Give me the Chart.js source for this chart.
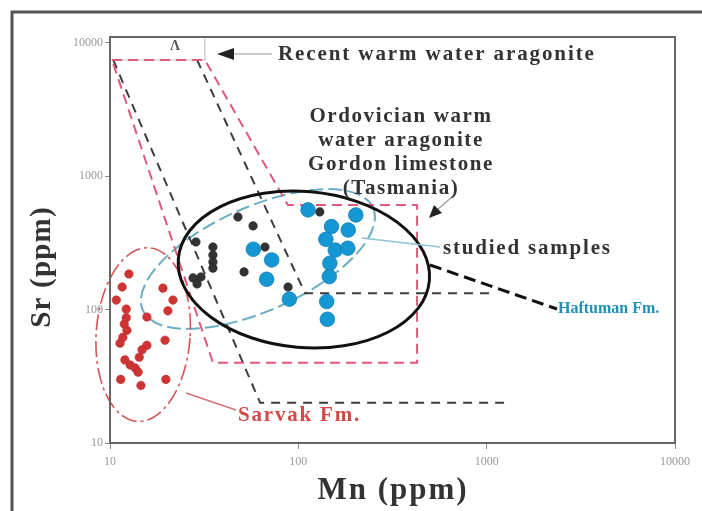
<!DOCTYPE html>
<html>
<head>
<meta charset="utf-8">
<script src="https://cdn.jsdelivr.net/npm/chart.js@4"></script>
<style>
  html, body { margin: 0; padding: 0; background: #fff; }
  #wrap { width: 702px; height: 511px; }
</style>
</head>
<body>
<div id="wrap"><canvas id="srMnChart" width="702" height="511"></canvas></div>
<script>
// Sr vs Mn (ppm), log-log
const xTicks = [10, 100, 1000, 10000];
const yTicks = [10, 100, 1000, 10000];

// Sarvak Fm. samples (red)
const sarvakMn = [12.6, 11.6, 10.8, 12.2, 12.2, 11.9, 12.3, 11.7, 11.3, 15.7, 19.1, 21.6, 20.3, 19.6, 15.7, 14.8, 14.3, 12.0, 12.8, 13.6, 14.1, 11.4, 14.6, 19.8];
const sarvakSr = [185, 148, 118, 101, 87, 78, 70, 62, 56, 88, 145, 118, 98, 59, 54, 50, 44, 42, 38.5, 36.5, 34, 30, 27, 30];

// Ordovician aragonite reference samples (black)
const gordonMn = [47.8, 57.5, 28.6, 35.2, 35.2, 35.2, 35.2, 51.5, 66.5, 27.6, 30.4, 29.0, 88.2, 130];
const gordonSr = [496, 425, 322, 295, 257, 228, 205, 192, 295, 173, 176, 156, 148, 541];

// Haftuman Fm. studied samples (blue)
const haftumanMn = [112.6, 202, 150, 184, 140, 157, 183, 147, 146, 57.7, 72.2, 67.9, 89.6, 141.5, 142.6];
const haftumanSr = [560, 513, 420, 396, 337, 280, 289, 223, 177, 284, 236, 169, 120, 115, 84.7];

// Ordovician warm water aragonite field (red dashed outline)
const ordovicianMn = [10.25, 31.9, 88, 427, 427, 35.2, 10.25];
const ordovicianSr = [7460, 7460, 610, 610, 40, 40, 7460];

// Recent warm water aragonite field (black dashed, two open lines)
const recentLowMn = [10.4, 62.7, 1330];
const recentLowSr = [7460, 20, 20];
const recentHighMn = [29.0, 108.5, 1042];
const recentHighSr = [7460, 133, 133];

const pts = (xs, ys) => xs.map((x, i) => ({ x: x, y: ys[i] }));

function lineSet(xs, ys, color, dash) {
  return {
    data: pts(xs, ys), showLine: true, pointRadius: 0, fill: false,
    borderColor: color, borderWidth: 2, borderDash: dash, order: 5
  };
}

function ellipse(ctx, cx, cy, rx, ry, rot) {
  ctx.beginPath();
  ctx.ellipse(cx, cy, rx, ry, rot * Math.PI / 180, 0, Math.PI * 2);
  ctx.stroke();
}

function label(ctx, text, x, y, size, color, align, spacing) {
  ctx.save();
  ctx.font = 'bold ' + size + 'px "Liberation Serif", "DejaVu Serif", serif';
  ctx.fillStyle = color;
  ctx.textAlign = align || 'left';
  ctx.textBaseline = 'middle';
  if (spacing) ctx.letterSpacing = spacing + 'px';
  ctx.fillText(text, x, y);
  ctx.restore();
}

const figureDecor = {
  id: 'figureDecor',
  beforeDraw(chart) {
    const ctx = chart.ctx;
    ctx.save();
    ctx.fillStyle = '#fff';
    ctx.fillRect(0, 0, chart.width, chart.height);
    // outer frame of the scanned figure
    ctx.strokeStyle = '#555';
    ctx.lineWidth = 3;
    ctx.beginPath();
    ctx.moveTo(12, chart.height);
    ctx.lineTo(12, 12);
    ctx.lineTo(chart.width, 12);
    ctx.stroke();
    ctx.restore();
  },
  beforeDatasetsDraw(chart) {
    const ctx = chart.ctx;
    const xs = chart.scales.x, ys = chart.scales.y;
    ctx.save();
    // "A" box
    ctx.strokeStyle = '#bbb';
    ctx.lineWidth = 1;
    ctx.strokeRect(chart.chartArea.left, chart.chartArea.top, xs.getPixelForValue(31.9) - chart.chartArea.left, ys.getPixelForValue(7460) - chart.chartArea.top);
    label(ctx, 'Λ', 175, 46, 14, '#555', 'center');

    // teal dashed field around the Ordovician samples
    ctx.strokeStyle = '#6aaec4';
    ctx.lineWidth = 2;
    ctx.setLineDash([14, 5]);
    ellipse(ctx, xs.getPixelForValue(61), ys.getPixelForValue(240), 126, 52, -24);

    // Sarvak field
    ctx.strokeStyle = '#d45555';
    ctx.lineWidth = 1.6;
    ctx.setLineDash([16, 4, 3, 4]);
    ellipse(ctx, xs.getPixelForValue(15), ys.getPixelForValue(65), 47, 87, 4);
    ctx.setLineDash([]);
    ctx.restore();
  },
  afterDatasetsDraw(chart) {
    const ctx = chart.ctx;
    const a = chart.chartArea;
    const xs = chart.scales.x, ys = chart.scales.y;
    ctx.save();
    // plot box
    ctx.strokeStyle = '#666';
    ctx.lineWidth = 2;
    ctx.strokeRect(a.left, a.top, a.right - a.left, a.bottom - a.top);

    // studied samples ellipse
    ctx.strokeStyle = '#111';
    ctx.lineWidth = 3;
    ellipse(ctx, xs.getPixelForValue(107), ys.getPixelForValue(200), 126, 78, 5);

    // leader to Haftuman Fm.
    ctx.setLineDash([12, 6]);
    ctx.beginPath();
    ctx.moveTo(430, 265);
    ctx.lineTo(557, 309);
    ctx.stroke();
    ctx.setLineDash([]);

    // leader to studied samples
    ctx.strokeStyle = '#8cc3cf';
    ctx.lineWidth = 1.5;
    ctx.beginPath();
    ctx.moveTo(362, 238);
    ctx.lineTo(440, 247);
    ctx.stroke();

    // leader to Sarvak Fm.
    ctx.strokeStyle = '#d97070';
    ctx.beginPath();
    ctx.moveTo(186, 393);
    ctx.lineTo(236, 410);
    ctx.stroke();

    // arrow: Recent warm water aragonite
    ctx.strokeStyle = '#999';
    ctx.lineWidth = 1.2;
    ctx.beginPath();
    ctx.moveTo(232, 54);
    ctx.lineTo(272, 54);
    ctx.stroke();
    ctx.fillStyle = '#222';
    ctx.beginPath();
    ctx.moveTo(217, 54);
    ctx.lineTo(234, 48);
    ctx.lineTo(234, 60);
    ctx.closePath();
    ctx.fill();

    // arrow: Tasmania
    ctx.strokeStyle = '#999';
    ctx.beginPath();
    ctx.moveTo(453, 196);
    ctx.lineTo(437, 210);
    ctx.stroke();
    ctx.beginPath();
    ctx.moveTo(429, 218);
    ctx.lineTo(434, 205);
    ctx.lineTo(442, 213);
    ctx.closePath();
    ctx.fill();

    // labels
    label(ctx, 'Recent warm water aragonite', 278, 55, 21, '#333', 'left', 1.9);
    label(ctx, 'Ordovician warm', 401, 117, 21, '#333', 'center', 1.6);
    label(ctx, 'water aragonite', 401, 141, 21, '#333', 'center', 1.6);
    label(ctx, 'Gordon limestone', 401, 165, 21, '#333', 'center', 1.6);
    label(ctx, '(Tasmania)', 401, 189, 21, '#333', 'center', 1.6);
    label(ctx, 'studied samples', 443, 249, 21, '#333', 'left', 1.8);
    label(ctx, 'Sarvak Fm.', 238, 416, 21, '#d44848', 'left', 1.8);
    label(ctx, 'Haftuman Fm.', 558, 309, 16, '#1f92b4', 'left', 0);

    // axis titles
    label(ctx, 'Mn (ppm)', 393, 491, 31, '#333', 'center', 2);
    ctx.save();
    ctx.translate(43, 267);
    ctx.rotate(-Math.PI / 2);
    label(ctx, 'Sr (ppm)', 0, 0, 29, '#333', 'center', 1.2);
    ctx.restore();
    ctx.restore();
  }
};

new Chart(document.getElementById('srMnChart'), {
  type: 'scatter',
  data: {
    datasets: [
      lineSet(ordovicianMn, ordovicianSr, '#e2587a', [10, 6]),
      lineSet(recentLowMn, recentLowSr, '#3d3d3d', [9, 7]),
      lineSet(recentHighMn, recentHighSr, '#3d3d3d', [9, 7]),
      {
        label: 'Sarvak Fm.', data: pts(sarvakMn, sarvakSr),
        pointRadius: 4.3, backgroundColor: '#cf3434', borderColor: '#b82a2a', borderWidth: 0.5, order: 2
      },
      {
        label: 'Gordon limestone', data: pts(gordonMn, gordonSr),
        pointRadius: 4.3, backgroundColor: '#333', borderColor: '#222', borderWidth: 0.5, order: 2
      },
      {
        label: 'Haftuman Fm.', data: pts(haftumanMn, haftumanSr),
        pointRadius: 7.3, backgroundColor: '#1597d4', borderColor: '#0f7fb5', borderWidth: 0.8, order: 1
      }
    ]
  },
  options: {
    responsive: false,
    animation: false,
    layout: { padding: { top: 37, right: 27, left: 0, bottom: 0 } },
    plugins: { legend: { display: false }, tooltip: { enabled: false } },
    scales: {
      x: {
        type: 'logarithmic', min: 10, max: 10000,
        afterBuildTicks: s => { s.ticks = xTicks.map(v => ({ value: v })); },
        afterFit: s => { s.height = 68; },
        grid: { drawOnChartArea: false, drawTicks: true, tickLength: 6, color: '#888' },
        border: { color: '#666', width: 2 },
        ticks: {
          padding: 6, color: '#999', maxRotation: 0, autoSkip: false,
          font: { family: '"Liberation Serif", serif', size: 12 },
          callback: v => String(v)
        }
      },
      y: {
        type: 'logarithmic', min: 10, max: 11090,
        afterBuildTicks: s => { s.ticks = yTicks.map(v => ({ value: v })); },
        afterFit: s => { s.width = 110; },
        grid: { drawOnChartArea: false, drawTicks: true, tickLength: 5, color: '#888' },
        border: { color: '#666', width: 2 },
        ticks: {
          padding: 2, color: '#999', autoSkip: false,
          font: { family: '"Liberation Serif", serif', size: 12 },
          callback: v => String(v)
        }
      }
    }
  },
  plugins: [figureDecor]
});
</script>
</body>
</html>
